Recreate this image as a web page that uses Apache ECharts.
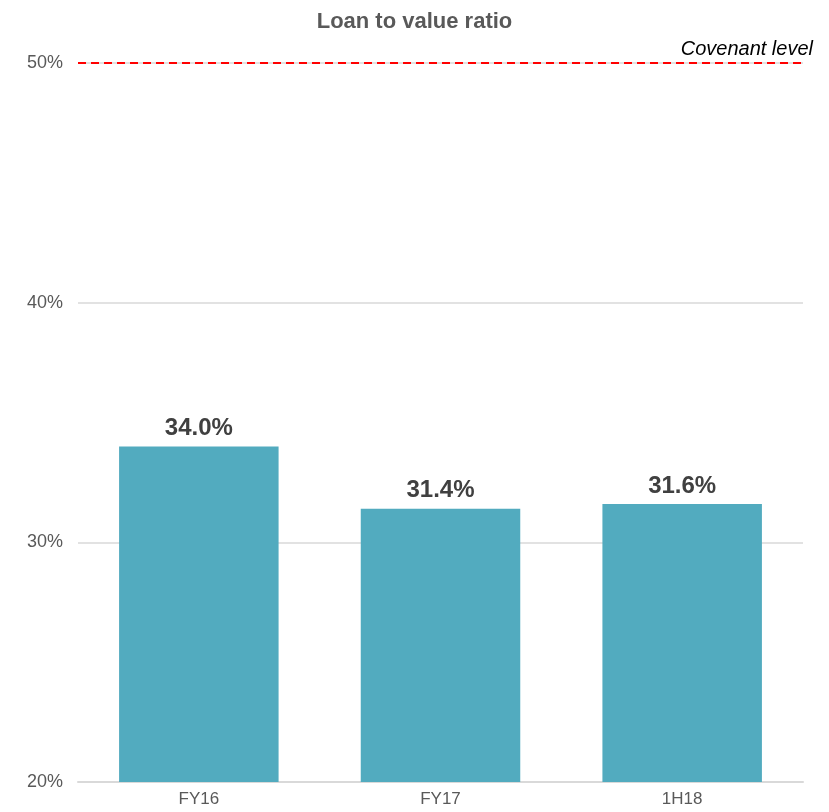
<!DOCTYPE html>
<html>
<head>
<meta charset="utf-8">
<script src="https://cdn.jsdelivr.net/npm/echarts@6/dist/echarts.min.js"></script>
<style>
  html, body { margin: 0; padding: 0; background: #fff; }
  #chart { width: 829px; height: 812px; }
</style>
</head>
<body>
<div id="chart"></div>
<script>
// data
const periods = ['FY16', 'FY17', '1H18'];
const ltv = [34.0, 31.4, 31.6];
const covenant = 50;
const yTicks = [20, 30, 40, 50];

const FONT = '"Liberation Sans", Arial, sans-serif';

let chart = echarts.init(document.getElementById('chart'));

let option = {
  animation: false,
  title: {
    text: 'Loan to value ratio',
    left: 'center',
    top: 6,
    textStyle: { fontFamily: FONT, fontSize: 22, fontWeight: 'bold', color: '#595959' }
  },
  grid: { left: 78, right: 26, top: 63, bottom: 30 },
  xAxis: {
    type: 'category',
    data: periods,
    axisLine: { lineStyle: { color: '#d9d9d9', width: 2 } },
    axisTick: { show: false },
    axisLabel: { fontFamily: FONT, fontSize: 17, color: '#595959', margin: 9 }
  },
  yAxis: {
    type: 'value',
    min: yTicks[0],
    max: yTicks[yTicks.length - 1],
    interval: 10,
    axisLine: { show: false },
    axisTick: { show: false },
    splitLine: { lineStyle: { color: '#d9d9d9', width: 1.5 } },
    axisLabel: {
      fontFamily: FONT, fontSize: 18, color: '#595959', margin: 15,
      formatter: v => v + '%'
    }
  },
  series: [
    {
      name: 'LTV',
      type: 'bar',
      data: ltv,
      barWidth: '66%',
      itemStyle: { color: '#52abbf' },
      label: {
        show: true,
        position: 'top',
        distance: 6,
        fontFamily: FONT,
        fontSize: 24,
        fontWeight: 'bold',
        color: '#404040',
        formatter: p => p.value.toFixed(1) + '%'
      },
      markLine: {
        silent: true,
        symbol: 'none',
        data: [{ yAxis: covenant }],
        lineStyle: { color: '#ff0000', type: [8, 5], width: 2 },
        label: {
          position: 'insideEndTop',
          formatter: 'Covenant level',
          fontFamily: FONT,
          fontSize: 20,
          fontStyle: 'italic',
          color: '#000',
          distance: [-10, 4]
        }
      }
    }
  ]
};

chart.setOption(option);
</script>
</body>
</html>
